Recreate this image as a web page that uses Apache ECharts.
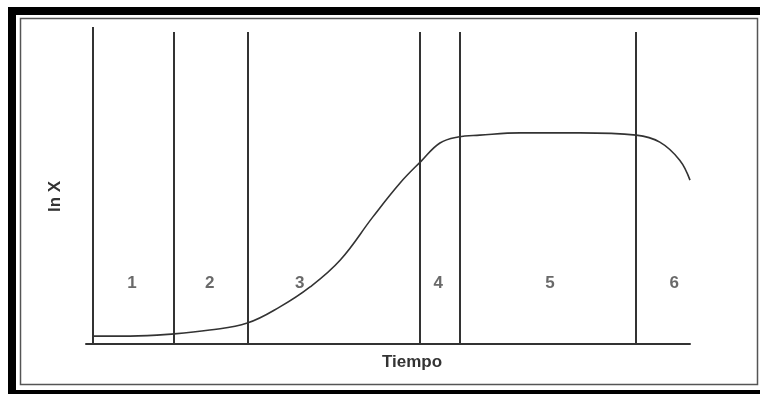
<!DOCTYPE html>
<html>
<head>
<meta charset="utf-8">
<script src="https://cdn.jsdelivr.net/npm/echarts@6/dist/echarts.min.js"></script>
<style>
  html, body { margin: 0; padding: 0; background: #fff; }
  #chart { width: 760px; height: 394px; }
</style>
</head>
<body>
<div id="chart"></div>
<script>
  // fases de crecimiento (limites en unidades de tiempo 0..100)
  var phaseBounds = [1.2, 14.6, 26.7, 55.3, 61.8, 91.1]
  var boundTops = [100, 98.4, 98.4, 98.4, 98.4, 98.4]
  var phaseNames = ['1', '2', '3', '4', '5', '6']
  var phaseLabelX = [7.6, 20.5, 35.4, 58.3, 76.8, 97.4]
  var phaseLabelY = 19.2

  // curva ln X
  var curveT = [1.2, 7.3, 14.6, 20.5, 26.7, 32.1, 37.1, 42.1, 47.5, 52.0, 55.5, 58.6, 61.6, 65.2, 71.9, 81.8, 91.1, 95.0, 98.3, 100]
  var curveLnX = [2.5, 2.5, 3.2, 4.4, 6.6, 11.7, 18.0, 26.5, 40.1, 50.8, 57.7, 63.4, 65.3, 65.9, 66.6, 66.6, 65.9, 63.7, 58.0, 51.7]

  var chart = echarts.init(document.getElementById('chart'))

  var boundLines = phaseBounds.map(function (x, i) {
    return [{coord: [x, 0]}, {coord: [x, boundTops[i]]}]
  })

  chart.setOption({
    animation: false,
    textStyle: {fontFamily: 'Liberation Sans, Arial, sans-serif'},
    grid: {left: 86, right: 70, top: 27, bottom: 50},
    graphic: [
      {
        type: 'rect',
        shape: {x: 12, y: 11, width: 760, height: 383},
        style: {fill: null, stroke: '#000', lineWidth: 8},
        silent: true
      },
      {
        type: 'rect',
        shape: {x: 20.5, y: 18.5, width: 737, height: 366},
        style: {fill: null, stroke: '#555', lineWidth: 1.5},
        silent: true
      }
    ],
    xAxis: {
      type: 'value',
      min: 0,
      max: 100,
      name: 'Tiempo',
      nameLocation: 'middle',
      nameGap: 10,
      nameTextStyle: {color: '#333', fontSize: 17, fontWeight: 'bold', padding: [0, 0, 0, 48]},
      axisLine: {show: true, lineStyle: {color: '#333', width: 2}},
      axisTick: {show: false},
      axisLabel: {show: false},
      splitLine: {show: false}
    },
    yAxis: {
      type: 'value',
      min: 0,
      max: 100,
      name: 'ln X',
      nameLocation: 'middle',
      nameGap: 22,
      nameRotate: 90,
      nameTextStyle: {color: '#333', fontSize: 17, fontWeight: 'bold', padding: [0, 22, 0, 0]},
      axisLine: {show: false},
      axisTick: {show: false},
      axisLabel: {show: false},
      splitLine: {show: false}
    },
    series: [
      {
        type: 'line',
        data: curveT.map(function (t, i) { return [t, curveLnX[i]] }),
        smooth: 0.4,
        showSymbol: false,
        lineStyle: {color: '#333', width: 1.6},
        markLine: {
          silent: true,
          symbol: 'none',
          label: {show: false},
          lineStyle: {color: '#333', width: 2, type: 'solid'},
          data: boundLines
        }
      },
      {
        type: 'scatter',
        symbolSize: 0,
        data: phaseLabelX.map(function (x, i) { return [x, phaseLabelY, phaseNames[i]] }),
        label: {
          show: true,
          position: 'inside',
          formatter: function (p) { return p.data[2] },
          color: '#444',
          fontSize: 17,
          fontWeight: 'bold'
        }
      }
    ]
  })
</script>
</body>
</html>
